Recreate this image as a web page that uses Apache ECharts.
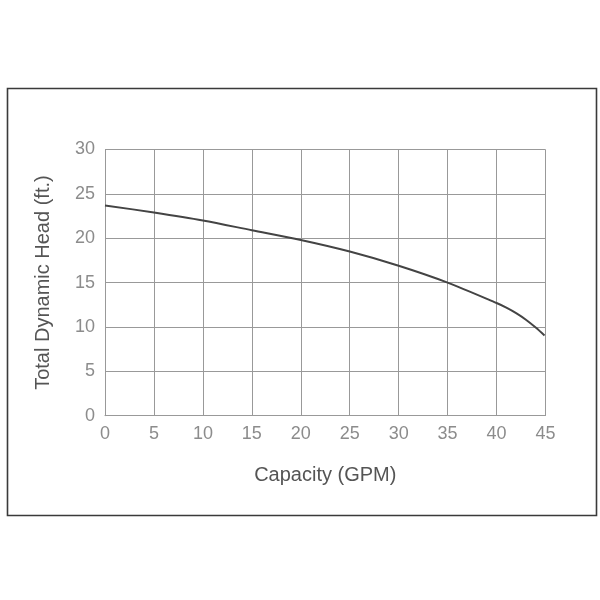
<!DOCTYPE html>
<html>
<head>
<meta charset="utf-8">
<script src="https://cdn.jsdelivr.net/npm/echarts@6/dist/echarts.min.js"></script>
<style>html,body{margin:0;padding:0;background:#fff}#c{width:600px;height:600px}</style>
</head>
<body>
<div id="c"></div>
<script>
var capacity = [0, 5, 10, 15, 20, 25, 30, 35, 40, 41, 42, 43, 44, 44.9];
var head = [23.7, 22.9, 22.0, 20.9, 19.8, 18.5, 16.9, 15.0, 12.7, 12.18, 11.56, 10.82, 9.94, 9.05];
var xTitle = 'Capacity (GPM)';
var yTitle = 'Total Dynamic Head (ft.)';

var chart = echarts.init(document.getElementById('c'), null, {renderer: 'canvas'});
var pts = capacity.map(function (x, i) { return [x, head[i]]; });
var font = 'Liberation Sans, Arial, sans-serif';
var labelStyle = {color: '#8c8c8c', fontSize: 18, fontFamily: font};
chart.setOption({
  animation: false,
  backgroundColor: '#fff',
  graphic: [{
    type: 'rect', left: 5, top: 86, shape: {width: 589, height: 427},
    style: {fill: 'none', stroke: '#3a3a3a', lineWidth: 1.6}, silent: true, z: -1
  }],
  grid: {left: 105, right: 54.5, top: 149.5, bottom: 184.3, containLabel: false},
  xAxis: {
    type: 'value', min: 0, max: 45, interval: 5,
    name: xTitle, nameLocation: 'middle', nameGap: 50,
    nameTextStyle: {color: '#555', fontSize: 20, fontFamily: font},
    axisLine: {show: true, lineStyle: {color: '#999', width: 1}},
    axisTick: {show: false},
    axisLabel: Object.assign({margin: 9}, labelStyle),
    splitLine: {show: true, lineStyle: {color: '#999', width: 1}}
  },
  yAxis: {
    type: 'value', min: 0, max: 30, interval: 5,
    name: yTitle, nameLocation: 'middle', nameGap: 52,
    nameTextStyle: {color: '#555', fontSize: 20, fontFamily: font},
    axisLine: {show: true, lineStyle: {color: '#999', width: 1}},
    axisTick: {show: false},
    axisLabel: Object.assign({margin: 10}, labelStyle),
    splitLine: {show: true, lineStyle: {color: '#999', width: 1}}
  },
  series: [{
    type: 'line', data: pts, smooth: 0.3, showSymbol: false,
    lineStyle: {color: '#444', width: 2}
  }]
});
</script>
</body>
</html>
